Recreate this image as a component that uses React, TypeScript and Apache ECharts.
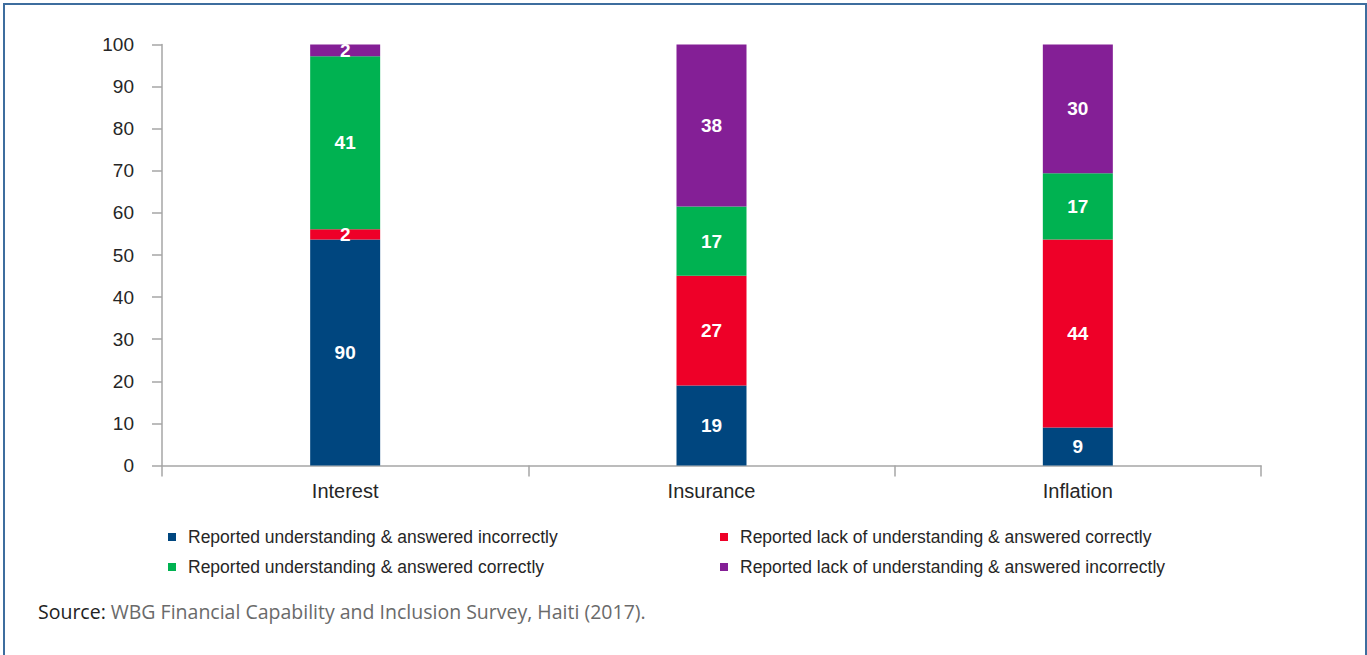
import React, { useEffect, useRef } from "react";
import * as echarts from "echarts";

const categories = ["Interest", "Insurance", "Inflation"];

const seriesNames = [
  "Reported understanding & answered incorrectly",
  "Reported lack of understanding & answered correctly",
  "Reported understanding & answered correctly",
  "Reported lack of understanding & answered incorrectly",
];

// bar heights (share of 100, as drawn)
const understoodIncorrect = [53.7, 19.0, 9.0];
const lackCorrect = [2.4, 26.1, 44.7];
const understoodCorrect = [41.1, 16.4, 15.7];
const lackIncorrect = [2.8, 38.5, 30.6];

// data labels as printed on the bars
const understoodIncorrectLabels = ["90", "19", "9"];
const lackCorrectLabels = ["2", "27", "44"];
const understoodCorrectLabels = ["41", "17", "17"];
const lackIncorrectLabels = ["2", "38", "30"];

const seriesColors = ["#00467F", "#EE0028", "#00B251", "#841F96"];

const sourcePrefix = "Source:";
const sourceText = "WBG Financial Capability and Inclusion Survey, Haiti (2017).";

const FONT = "'Liberation Sans', Arial, sans-serif";
const SRC_FONT = "'Open Sans', Lato, sans-serif";

export default function App() {
  const ref = useRef<HTMLDivElement>(null);

  useEffect(() => {
    if (!ref.current) return;
    const chart = echarts.init(ref.current, null, { renderer: "svg" });
    const values = [understoodIncorrect, lackCorrect, understoodCorrect, lackIncorrect];
    const labels = [
      understoodIncorrectLabels,
      lackCorrectLabels,
      understoodCorrectLabels,
      lackIncorrectLabels,
    ];
    const legendText = {
      fontFamily: FONT,
      fontSize: 17.5,
      color: "#262626",
      padding: [0, 0, 0, 7],
    };
    chart.setOption({
      animation: false,
      backgroundColor: "#ffffff",
      graphic: [
        {
          type: "rect",
          shape: { x: 4, y: 4, width: 1362, height: 700 },
          style: { fill: "none", stroke: "#3d6d9e", lineWidth: 2 },
          silent: true,
        },
      ],
      title: {
        left: 33,
        top: 596,
        text: `{a|${sourcePrefix}} {b|${sourceText}}`,
        textStyle: {
          fontWeight: "normal",
          rich: {
            a: { fontFamily: SRC_FONT, fontSize: 19.5, fontWeight: "normal", color: "#222222" },
            b: { fontFamily: SRC_FONT, fontSize: 19.5, fontWeight: "normal", color: "#6a6a6a" },
          },
        },
      },
      legend: [
        {
          left: 163,
          top: 523,
          orient: "vertical",
          icon: "rect",
          itemWidth: 8,
          itemHeight: 8,
          itemGap: 12,
          data: [seriesNames[0], seriesNames[2]],
          textStyle: legendText,
          selectedMode: false,
        },
        {
          left: 715,
          top: 523,
          orient: "vertical",
          icon: "rect",
          itemWidth: 8,
          itemHeight: 8,
          itemGap: 12,
          data: [seriesNames[1], seriesNames[3]],
          textStyle: legendText,
          selectedMode: false,
        },
      ],
      grid: {
        left: 162,
        top: 44.5,
        width: 1099,
        height: 421,
        containLabel: false,
        outerBoundsMode: "none",
      },
      xAxis: {
        type: "category",
        data: categories,
        axisLine: { show: true, lineStyle: { color: "#a6a6a6", width: 1.5 } },
        axisTick: { show: true, length: 11, lineStyle: { color: "#a6a6a6", width: 1.5 } },
        axisLabel: { fontFamily: FONT, fontSize: 20, color: "#262626", margin: 15 },
      },
      yAxis: {
        type: "value",
        min: 0,
        max: 100,
        interval: 10,
        splitLine: { show: false },
        axisLine: { show: true, lineStyle: { color: "#a6a6a6", width: 1.5 } },
        axisTick: { show: true, length: 10, lineStyle: { color: "#a6a6a6", width: 1.5 } },
        axisLabel: { fontFamily: FONT, fontSize: 19, color: "#262626", margin: 28 },
      },
      series: values.map((v, i) => ({
        name: seriesNames[i],
        type: "bar",
        stack: "total",
        barWidth: 70,
        data: v,
        itemStyle: { color: seriesColors[i] },
        label: {
          show: true,
          position: "inside",
          color: "#ffffff",
          fontFamily: FONT,
          fontWeight: "bold",
          fontSize: 19,
          formatter: (p: any) => labels[i][p.dataIndex],
        },
      })),
    });
    return () => chart.dispose();
  }, []);

  return (
    <div
      ref={ref}
      style={{ position: "fixed", left: 0, top: 0, width: 1367, height: 655 }}
    />
  );
}
